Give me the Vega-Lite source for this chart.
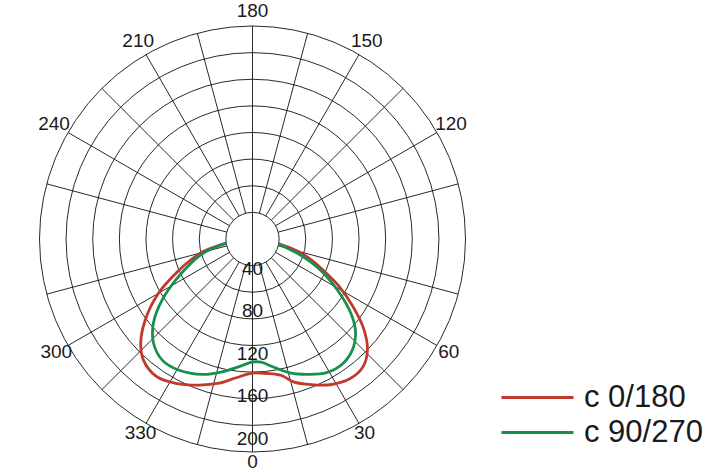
{
  "$schema": "https://vega.github.io/schema/vega-lite/v6.json",
  "width": 706,
  "height": 473,
  "autosize": {"type": "none"},
  "padding": 0,
  "background": "white",
  "config": {"view": {"stroke": null}, "font": "Liberation Sans"},
  "datasets": {
    "rings": [{"cd": 25}, {"cd": 50}, {"cd": 75}, {"cd": 100}, {"cd": 125}, {"cd": 150}, {"cd": 175}, {"cd": 200}],
    "spokes": [
      {"angle": 0, "from": 0, "to": 200}, {"angle": 15, "from": 25, "to": 200}, {"angle": 30, "from": 25, "to": 200},
      {"angle": 45, "from": 25, "to": 200}, {"angle": 60, "from": 25, "to": 200}, {"angle": 75, "from": 25, "to": 200},
      {"angle": 105, "from": 25, "to": 200}, {"angle": 120, "from": 25, "to": 200}, {"angle": 135, "from": 25, "to": 200},
      {"angle": 150, "from": 25, "to": 200}, {"angle": 165, "from": 25, "to": 200}, {"angle": 180, "from": 0, "to": 200},
      {"angle": 195, "from": 25, "to": 200}, {"angle": 210, "from": 25, "to": 200}, {"angle": 225, "from": 25, "to": 200},
      {"angle": 240, "from": 25, "to": 200}, {"angle": 255, "from": 25, "to": 200}, {"angle": 285, "from": 25, "to": 200},
      {"angle": 300, "from": 25, "to": 200}, {"angle": 315, "from": 25, "to": 200}, {"angle": 330, "from": 25, "to": 200},
      {"angle": 345, "from": 25, "to": 200}
    ],
    "angleLabels": [
      {"angle": 0, "label": "0"}, {"angle": 30, "label": "30"}, {"angle": 60, "label": "60"},
      {"angle": 120, "label": "120"}, {"angle": 150, "label": "150"}, {"angle": 180, "label": "180"},
      {"angle": 210, "label": "210"}, {"angle": 240, "label": "240"}, {"angle": 300, "label": "300"},
      {"angle": 330, "label": "330"}
    ],
    "radialLabels": [{"cd": 40}, {"cd": 80}, {"cd": 120}, {"cd": 160}, {"cd": 200}],
    "curves": [
      {"plane": "c 0/180", "angle": -81, "cd": 25},
      {"plane": "c 0/180", "angle": -78, "cd": 37},
      {"plane": "c 0/180", "angle": -75, "cd": 50},
      {"plane": "c 0/180", "angle": -71, "cd": 62},
      {"plane": "c 0/180", "angle": -67, "cd": 75},
      {"plane": "c 0/180", "angle": -60, "cd": 102},
      {"plane": "c 0/180", "angle": -53, "cd": 126},
      {"plane": "c 0/180", "angle": -47, "cd": 143.5},
      {"plane": "c 0/180", "angle": -42, "cd": 153},
      {"plane": "c 0/180", "angle": -35, "cd": 157.5},
      {"plane": "c 0/180", "angle": -28, "cd": 153.5},
      {"plane": "c 0/180", "angle": -20, "cd": 146},
      {"plane": "c 0/180", "angle": -13, "cd": 139},
      {"plane": "c 0/180", "angle": -7, "cd": 131.5},
      {"plane": "c 0/180", "angle": 0, "cd": 126},
      {"plane": "c 0/180", "angle": 6, "cd": 127},
      {"plane": "c 0/180", "angle": 12, "cd": 131},
      {"plane": "c 0/180", "angle": 16, "cd": 139.5},
      {"plane": "c 0/180", "angle": 22, "cd": 147.5},
      {"plane": "c 0/180", "angle": 28, "cd": 155},
      {"plane": "c 0/180", "angle": 35, "cd": 160},
      {"plane": "c 0/180", "angle": 41, "cd": 158.5},
      {"plane": "c 0/180", "angle": 46, "cd": 150},
      {"plane": "c 0/180", "angle": 51, "cd": 134.5},
      {"plane": "c 0/180", "angle": 56, "cd": 114},
      {"plane": "c 0/180", "angle": 61, "cd": 94},
      {"plane": "c 0/180", "angle": 66, "cd": 73},
      {"plane": "c 0/180", "angle": 70, "cd": 60},
      {"plane": "c 0/180", "angle": 74, "cd": 47},
      {"plane": "c 0/180", "angle": 77, "cd": 35},
      {"plane": "c 0/180", "angle": 79.5, "cd": 25},
      {"plane": "c 90/270", "angle": -81, "cd": 25},
      {"plane": "c 90/270", "angle": -77, "cd": 38},
      {"plane": "c 90/270", "angle": -72, "cd": 53.4},
      {"plane": "c 90/270", "angle": -63, "cd": 78},
      {"plane": "c 90/270", "angle": -56, "cd": 102.3},
      {"plane": "c 90/270", "angle": -49.7, "cd": 122},
      {"plane": "c 90/270", "angle": -43.6, "cd": 134.8},
      {"plane": "c 90/270", "angle": -36.7, "cd": 141.8},
      {"plane": "c 90/270", "angle": -29.5, "cd": 141.3},
      {"plane": "c 90/270", "angle": -20, "cd": 135.3},
      {"plane": "c 90/270", "angle": -13, "cd": 128},
      {"plane": "c 90/270", "angle": -6, "cd": 120.5},
      {"plane": "c 90/270", "angle": 0, "cd": 115.5},
      {"plane": "c 90/270", "angle": 4, "cd": 116},
      {"plane": "c 90/270", "angle": 9, "cd": 121.5},
      {"plane": "c 90/270", "angle": 16, "cd": 131},
      {"plane": "c 90/270", "angle": 22, "cd": 137},
      {"plane": "c 90/270", "angle": 29, "cd": 143.5},
      {"plane": "c 90/270", "angle": 36, "cd": 144.5},
      {"plane": "c 90/270", "angle": 43, "cd": 139},
      {"plane": "c 90/270", "angle": 48.5, "cd": 129},
      {"plane": "c 90/270", "angle": 53, "cd": 115.5},
      {"plane": "c 90/270", "angle": 59, "cd": 93},
      {"plane": "c 90/270", "angle": 65.5, "cd": 70},
      {"plane": "c 90/270", "angle": 71.5, "cd": 47.5},
      {"plane": "c 90/270", "angle": 75, "cd": 34},
      {"plane": "c 90/270", "angle": 79, "cd": 25}
    ]
  },
  "layer": [
    {
      "data": {"name": "rings"},
      "mark": {"type": "arc", "theta": 0, "theta2": 6.2832, "filled": false, "stroke": "#111111", "strokeWidth": 0.9},
      "encoding": {
        "x": {"datum": 0, "type": "quantitative", "scale": {"domain": [-237.09, 425.82], "nice": false, "zero": false}, "axis": null},
        "y": {"datum": 0, "type": "quantitative", "scale": {"domain": [-224.41, 219.72], "nice": false, "zero": false, "reverse": true}, "axis": null},
        "radius": {"field": "cd", "type": "quantitative", "stack": null, "scale": {"type": "linear", "domain": [0, 200], "range": [0, 213], "zero": true, "nice": false}, "legend": null}
      }
    },
    {
      "data": {"name": "spokes"},
      "transform": [
        {"calculate": "sin(datum.angle*PI/180)*datum.from", "as": "x1"},
        {"calculate": "cos(datum.angle*PI/180)*datum.from", "as": "y1"},
        {"calculate": "sin(datum.angle*PI/180)*datum.to", "as": "x2"},
        {"calculate": "cos(datum.angle*PI/180)*datum.to", "as": "y2"}
      ],
      "mark": {"type": "rule", "stroke": "#111111", "strokeWidth": 0.9},
      "encoding": {
        "x": {"field": "x1", "type": "quantitative"},
        "y": {"field": "y1", "type": "quantitative"},
        "x2": {"field": "x2"},
        "y2": {"field": "y2"}
      }
    },
    {
      "data": {"name": "curves"},
      "transform": [
        {"calculate": "sin(datum.angle*PI/180)*datum.cd", "as": "px"},
        {"calculate": "cos(datum.angle*PI/180)*datum.cd", "as": "py"}
      ],
      "mark": {"type": "line", "strokeWidth": 2.8, "interpolate": "catmull-rom"},
      "encoding": {
        "x": {"field": "px", "type": "quantitative"},
        "y": {"field": "py", "type": "quantitative"},
        "order": {"field": "angle", "type": "quantitative"},
        "color": {
          "field": "plane",
          "type": "nominal",
          "scale": {"domain": ["c 0/180", "c 90/270"], "range": ["#c0392b", "#16904f"]},
          "legend": {
            "title": null,
            "orient": "none",
            "legendX": 518,
            "legendY": 378,
            "symbolType": "M-2,0H2",
            "symbolSize": 1296,
            "symbolStrokeWidth": 3,
            "labelFontSize": 31,
            "labelFont": "Liberation Sans",
            "labelColor": "#1a1a1a",
            "labelOffset": 27,
            "rowPadding": 0,
            "padding": 0
          }
        }
      }
    },
    {
      "data": {"name": "angleLabels"},
      "transform": [
        {"calculate": "216 - 6.5*max(0, cos(datum.angle*PI/180)) - 1.5*max(0, -cos(datum.angle*PI/180))", "as": "lr"},
        {"calculate": "sin(datum.angle*PI/180)*datum.lr", "as": "lx"},
        {"calculate": "cos(datum.angle*PI/180)*datum.lr", "as": "ly"}
      ],
      "mark": {"type": "text", "fontSize": 19, "font": "Liberation Sans", "color": "#1a1a1a", "align": "center", "baseline": "middle"},
      "encoding": {
        "x": {"field": "lx", "type": "quantitative"},
        "y": {"field": "ly", "type": "quantitative"},
        "text": {"field": "label"}
      }
    },
    {
      "data": {"name": "radialLabels"},
      "mark": {"type": "text", "fontSize": 19, "font": "Liberation Sans", "color": "#1a1a1a", "align": "center", "baseline": "middle", "dy": -13},
      "encoding": {
        "x": {"datum": 0, "type": "quantitative"},
        "y": {"field": "cd", "type": "quantitative"},
        "text": {"field": "cd", "type": "quantitative"}
      }
    }
  ]
}
